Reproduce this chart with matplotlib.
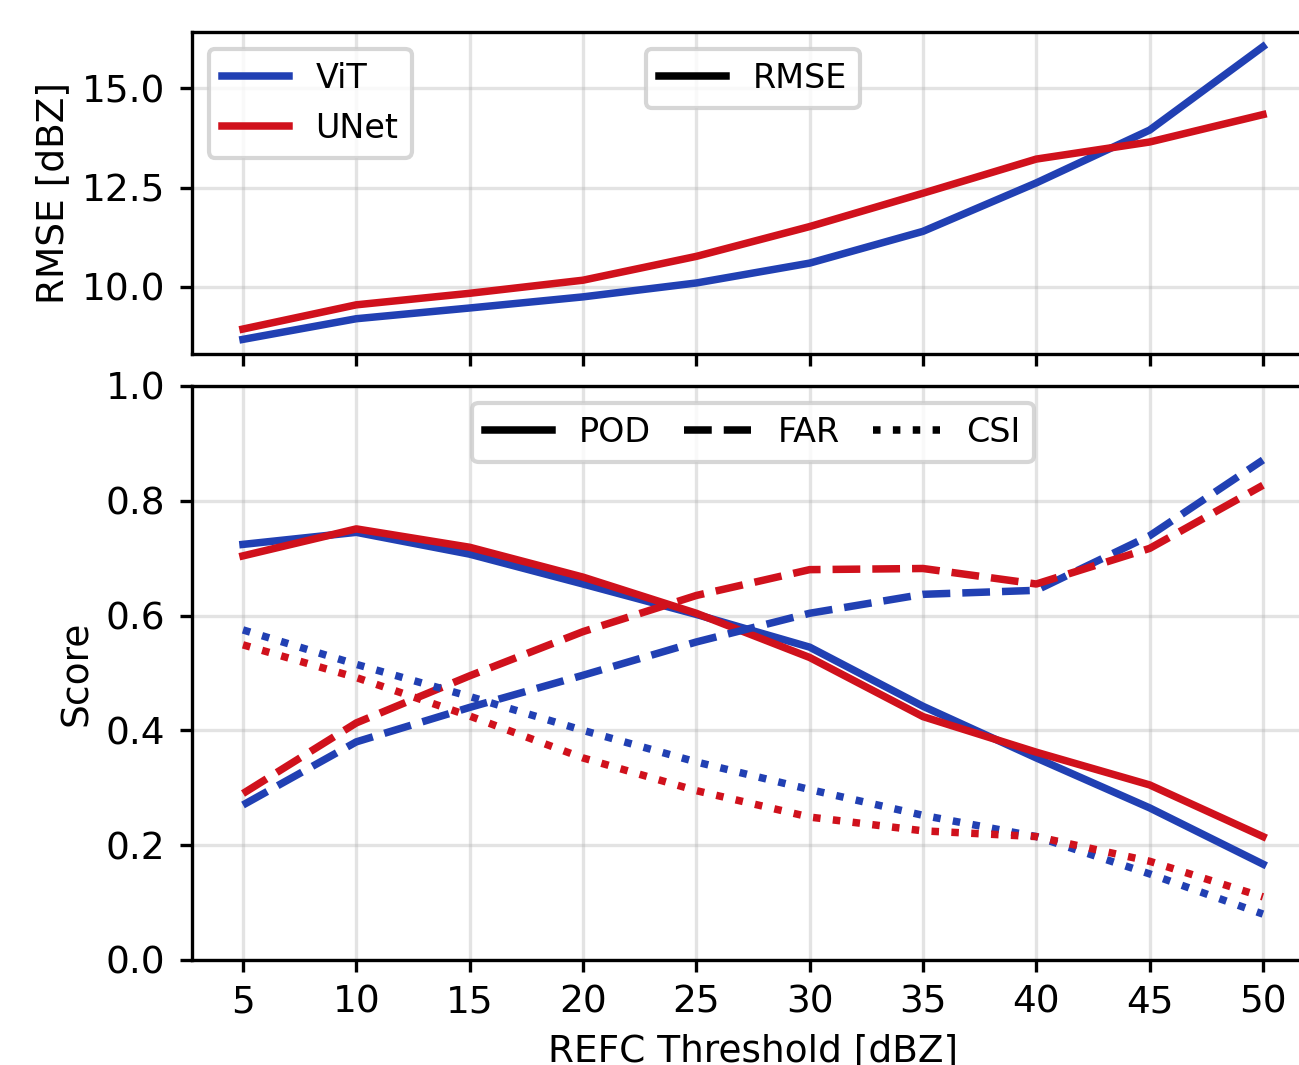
import matplotlib
matplotlib.use("Agg")
import matplotlib.pyplot as plt
from matplotlib.lines import Line2D

thresholds = [5, 10, 15, 20, 25, 30, 35, 40, 45, 50]

rmse_vit = [8.68, 9.20, 9.47, 9.75, 10.10, 10.60, 11.40, 12.62, 13.95, 16.05]
rmse_unet = [8.94, 9.55, 9.84, 10.17, 10.77, 11.52, 12.36, 13.22, 13.65, 14.34]

pod_vit = [0.724, 0.745, 0.707, 0.655, 0.602, 0.545, 0.442, 0.352, 0.265, 0.167]
pod_unet = [0.704, 0.751, 0.719, 0.667, 0.604, 0.527, 0.424, 0.362, 0.305, 0.215]
far_vit = [0.270, 0.380, 0.440, 0.496, 0.554, 0.604, 0.637, 0.644, 0.739, 0.871]
far_unet = [0.290, 0.413, 0.495, 0.572, 0.635, 0.680, 0.682, 0.655, 0.717, 0.827]
csi_vit = [0.575, 0.515, 0.459, 0.400, 0.345, 0.297, 0.252, 0.215, 0.150, 0.080]
csi_unet = [0.549, 0.492, 0.425, 0.352, 0.295, 0.249, 0.225, 0.215, 0.172, 0.110]

rmse_ticks = [10.0, 12.5, 15.0]

blue = "#2140b3"
red = "#d0111c"
lw = 1.8

plt.rcParams["xtick.labelsize"] = 9
plt.rcParams["ytick.labelsize"] = 9
plt.rcParams["xtick.major.size"] = 2.9
plt.rcParams["ytick.major.size"] = 2.9

fig = plt.figure(figsize=(1299 / 300, 1065 / 300), dpi=300)
ax1 = fig.add_axes([0.1478, 0.6676, 0.8637, 0.3023])
ax2 = fig.add_axes([0.1478, 0.0986, 0.8637, 0.539], sharex=ax1)

# top panel: RMSE
ax1.plot(thresholds, rmse_vit, color=blue, lw=lw, label="ViT")
ax1.plot(thresholds, rmse_unet, color=red, lw=lw, label="UNet")
ax1.set_yticks(rmse_ticks)
ax1.set_ylabel("RMSE [dBZ]", fontsize=9, labelpad=2.5)
ax1.grid(True, alpha=0.35)
ax1.tick_params(labelbottom=False)
leg1 = ax1.legend(loc="upper left", fontsize=8)
ax1.add_artist(leg1)
ax1.legend(handles=[Line2D([], [], color="k", lw=lw, label="RMSE")],
           loc="upper center", fontsize=8)

# bottom panel: scores
ax2.plot(thresholds, pod_vit, color=blue, lw=lw, ls="-")
ax2.plot(thresholds, pod_unet, color=red, lw=lw, ls="-")
ax2.plot(thresholds, far_vit, color=blue, lw=lw, ls="--")
ax2.plot(thresholds, far_unet, color=red, lw=lw, ls="--")
ax2.plot(thresholds, csi_vit, color=blue, lw=lw, ls=":")
ax2.plot(thresholds, csi_unet, color=red, lw=lw, ls=":")
ax2.set_ylim(0, 1)
ax2.set_xticks(thresholds)
ax2.tick_params(axis="x", pad=3)
ax2.set_ylabel("Score", fontsize=9, labelpad=2.5)
ax2.set_xlabel("REFC Threshold [dBZ]", fontsize=9, labelpad=3)
ax2.grid(True, alpha=0.35)
handles = [Line2D([], [], color="k", lw=lw, ls="-", label="POD"),
           Line2D([], [], color="k", lw=lw, ls="--", label="FAR"),
           Line2D([], [], color="k", lw=lw, ls=":", label="CSI")]
ax2.legend(handles=handles, loc="upper center", ncol=3, fontsize=8, columnspacing=1.0)

fig.savefig("out.png", dpi=300)
